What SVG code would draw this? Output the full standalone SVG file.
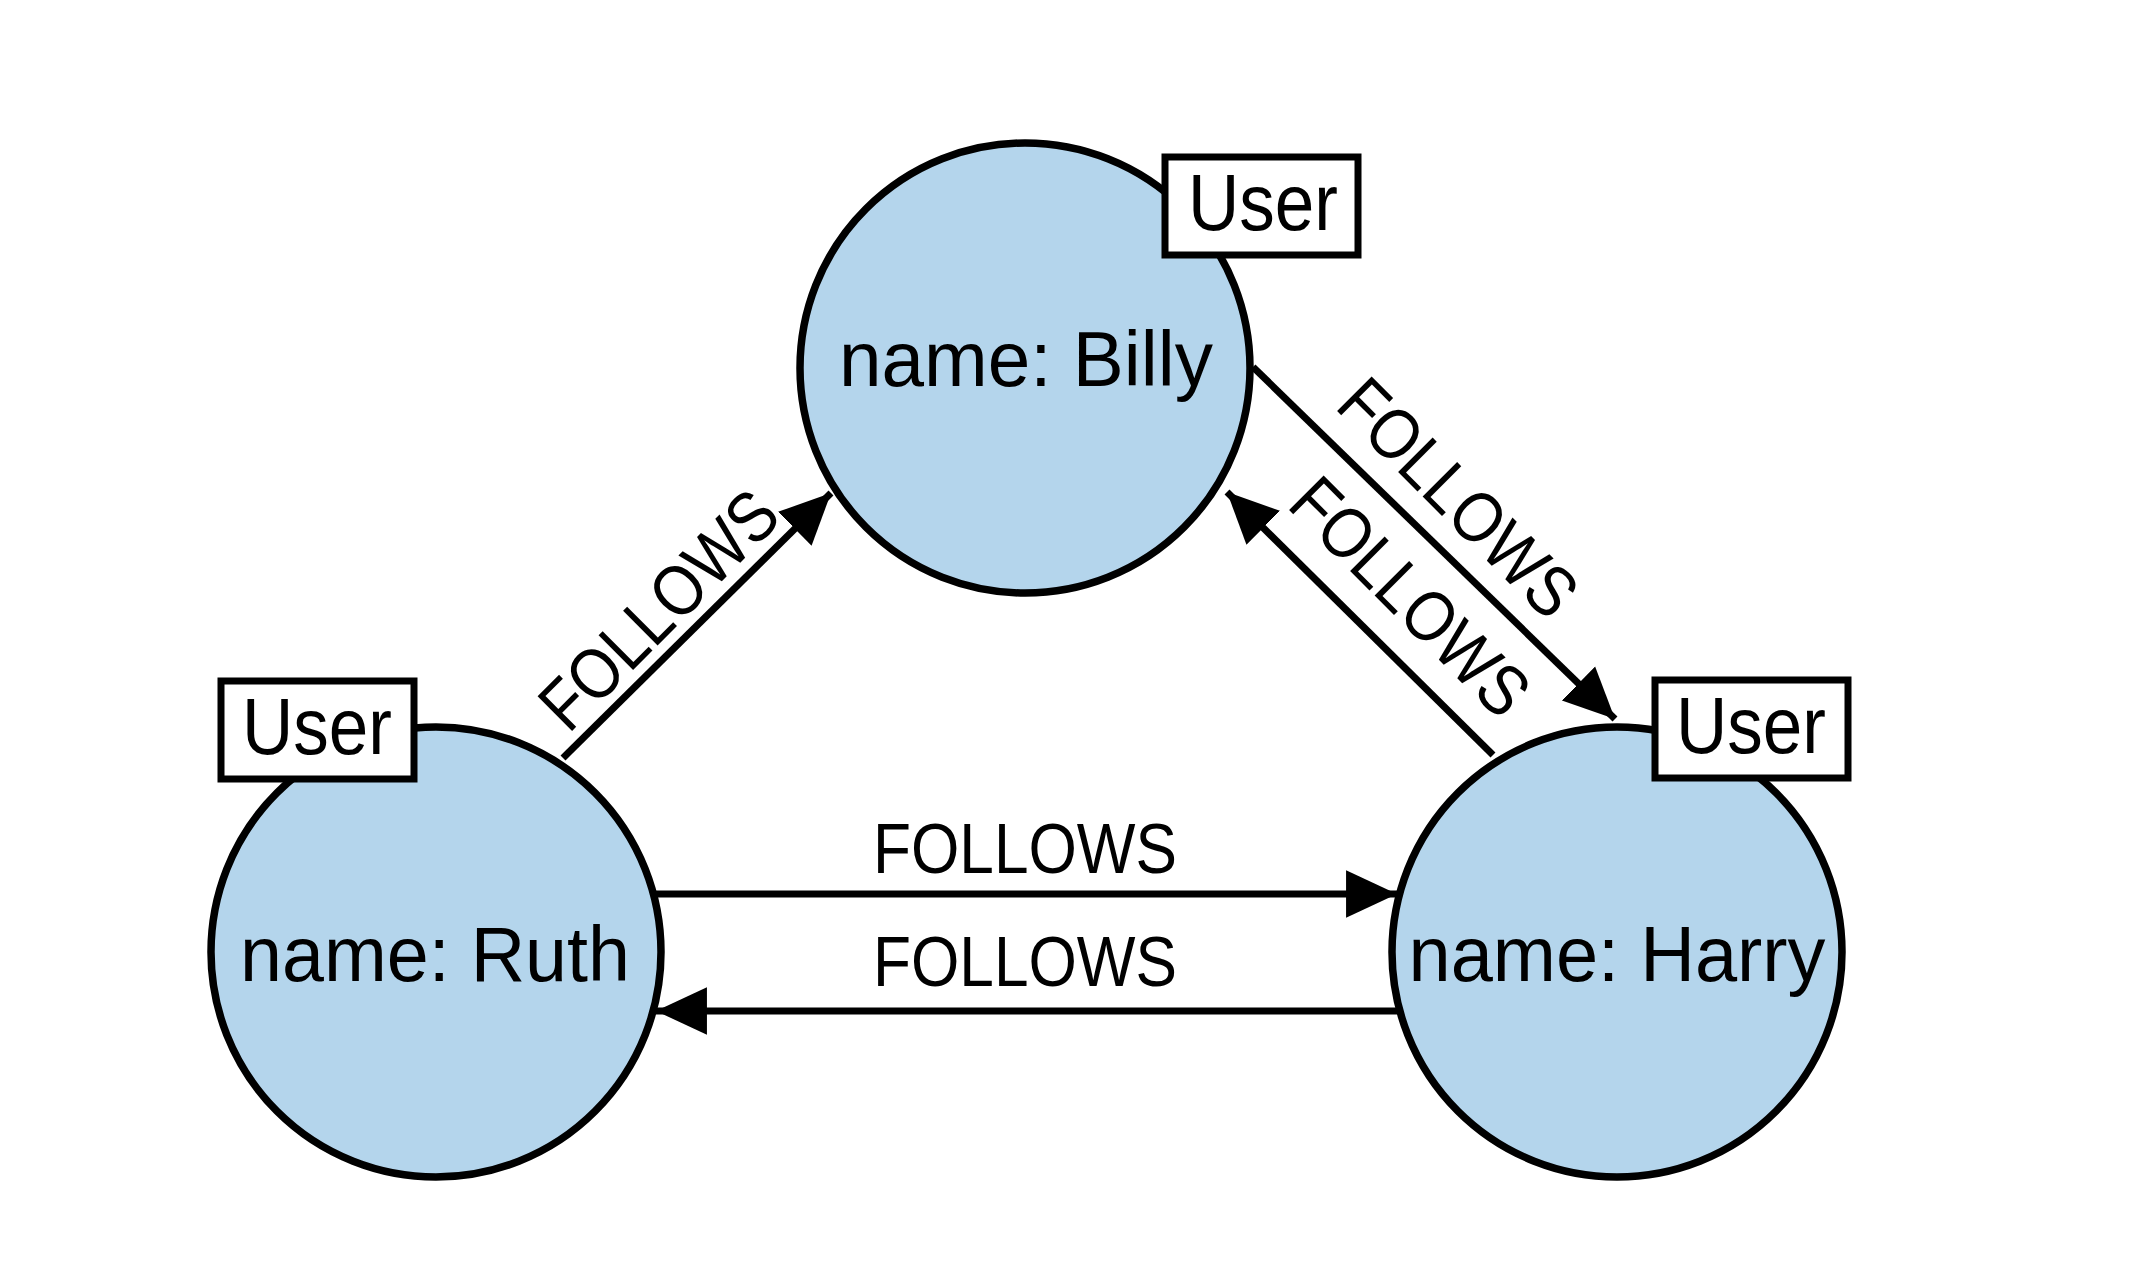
<svg xmlns="http://www.w3.org/2000/svg" width="2139" height="1288" viewBox="0 0 2139 1288">
<style>
.node{fill:#b4d5ec;stroke:#000;stroke-width:7.5}
.lab{fill:#fff;stroke:#000;stroke-width:7}
.t{font-family:"Liberation Sans",Arial,sans-serif;fill:#000}
.name{font-size:78px}
.user{font-size:80px}
.rel{font-size:71px}
.edge{stroke:#000;stroke-width:7;fill:none}
</style>
<defs>
<marker id="arrow" markerUnits="userSpaceOnUse" markerWidth="52" markerHeight="50" viewBox="0 0 48 46" refX="47" refY="23" orient="auto">
<path d="M0,1 L47,23 L0,45 Z" fill="#000"/>
</marker>
</defs>
<rect width="2139" height="1288" fill="#fff"/>
<g id="connectors">
<line class="edge" x1="563" y1="758" x2="831" y2="493" marker-end="url(#arrow)"/>
<line class="edge" x1="1253" y1="367" x2="1615" y2="719" marker-end="url(#arrow)"/>
<line class="edge" x1="1493" y1="755" x2="1227" y2="492" marker-end="url(#arrow)"/>
<line class="edge" x1="654" y1="894" x2="1397" y2="894" marker-end="url(#arrow)"/>
<line class="edge" x1="1400" y1="1011" x2="656" y2="1011" marker-end="url(#arrow)"/>
<text class="t rel" text-anchor="middle" textLength="304" lengthAdjust="spacingAndGlyphs" transform="translate(676,627) rotate(-45)">FOLLOWS</text>
<text class="t rel" text-anchor="middle" textLength="304" lengthAdjust="spacingAndGlyphs" transform="translate(1441,515) rotate(45)">FOLLOWS</text>
<text class="t rel" text-anchor="middle" textLength="304" lengthAdjust="spacingAndGlyphs" transform="translate(1393,614) rotate(45)">FOLLOWS</text>
<text class="t rel" x="1025" y="873" text-anchor="middle" textLength="304" lengthAdjust="spacingAndGlyphs">FOLLOWS</text>
<text class="t rel" x="1025" y="986" text-anchor="middle" textLength="304" lengthAdjust="spacingAndGlyphs">FOLLOWS</text>
</g>
<g id="billy">
<circle class="node" cx="1025" cy="368" r="225"/>
<text class="t name" x="1026" y="386" text-anchor="middle" textLength="374" lengthAdjust="spacingAndGlyphs">name: Billy</text>
<rect class="lab" x="1165" y="157" width="193" height="98"/>
<text class="t user" x="1263" y="230" text-anchor="middle" textLength="150" lengthAdjust="spacingAndGlyphs">User</text>
</g>
<g id="ruth">
<circle class="node" cx="436" cy="952" r="225"/>
<text class="t name" x="435" y="981" text-anchor="middle" textLength="390" lengthAdjust="spacingAndGlyphs">name: Ruth</text>
<rect class="lab" x="221" y="681" width="193" height="98"/>
<text class="t user" x="317" y="754" text-anchor="middle" textLength="150" lengthAdjust="spacingAndGlyphs">User</text>
</g>
<g id="harry">
<circle class="node" cx="1617" cy="952" r="225"/>
<text class="t name" x="1617" y="981" text-anchor="middle" textLength="417" lengthAdjust="spacingAndGlyphs">name: Harry</text>
<rect class="lab" x="1655" y="680" width="193" height="98"/>
<text class="t user" x="1751" y="753" text-anchor="middle" textLength="150" lengthAdjust="spacingAndGlyphs">User</text>
</g>
</svg>
